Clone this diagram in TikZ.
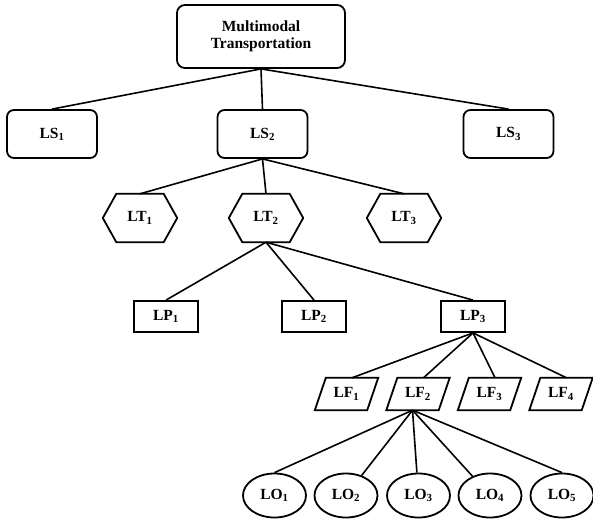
\documentclass[tikz,border=0pt]{standalone}
\usepackage{fontspec}
\setmainfont{Liberation Serif}
\usetikzlibrary{shapes.geometric}
\begin{document}
\begin{tikzpicture}[x=1pt,y=-1pt,
  every node/.style={font=\fontsize{15.5}{17}\selectfont\bfseries},
  topbox/.style={draw, line width=1.8pt, rounded corners=8pt, minimum width=168pt, minimum height=63pt, inner sep=0pt, align=center},
  rbox/.style={draw, line width=1.8pt, rounded corners=7pt, minimum width=90pt, minimum height=48pt, inner sep=0pt},
  hexbox/.style={minimum width=74pt, minimum height=48pt, inner sep=0pt},
  pbox/.style={draw, line width=1.8pt, minimum width=64pt, minimum height=31pt, inner sep=0pt},
  fbox/.style={minimum width=63pt, minimum height=32pt, inner sep=0pt},
  obox/.style={draw, ellipse, line width=1.8pt, minimum width=63pt, minimum height=44pt, inner sep=0pt},
  conn/.style={line width=1.6pt},
  outline/.style={line width=1.8pt, line join=miter}]
\useasboundingbox (0,0) rectangle (593,519);

% level 0
\node[topbox] (mt) at (261,36.5) {Multimodal\\Transportation};
% level 1
\node[rbox] (ls1) at (52,134) {LS\textsubscript{1}};
\node[rbox] (ls2) at (262.5,134) {LS\textsubscript{2}};
\node[rbox] (ls3) at (508.5,134) {LS\textsubscript{3}};
% level 2
\node[hexbox] (lt1) at (140,218) {LT\textsubscript{1}};
\node[hexbox] (lt2) at (266,218) {LT\textsubscript{2}};
\node[hexbox] (lt3) at (404,218) {LT\textsubscript{3}};
\foreach \n in {lt1,lt2,lt3}{
  \draw[outline] (\n.west) -- ([xshift=13.5pt]\n.north west) -- ([xshift=-13.5pt]\n.north east)
    -- (\n.east) -- ([xshift=-13.5pt]\n.south east) -- ([xshift=13.5pt]\n.south west) -- cycle;
}
% level 3
\node[pbox] (lp1) at (166,316.5) {LP\textsubscript{1}};
\node[pbox] (lp2) at (314,316.5) {LP\textsubscript{2}};
\node[pbox] (lp3) at (473,316.5) {LP\textsubscript{3}};
% level 4
\node[fbox] (lf1) at (346.5,394) {LF\textsubscript{1}};
\node[fbox] (lf2) at (418,394) {LF\textsubscript{2}};
\node[fbox] (lf3) at (489.5,394) {LF\textsubscript{3}};
\node[fbox] (lf4) at (561,394) {LF\textsubscript{4}};
\foreach \n in {lf1,lf2,lf3,lf4}{
  \draw[outline] (\n.south west) -- ([xshift=11pt]\n.north west) -- (\n.north east)
    -- ([xshift=-11pt]\n.south east) -- cycle;
}
% level 5
\node[obox] (lo1) at (274.5,495.5) {LO\textsubscript{1}};
\node[obox] (lo2) at (346,495.5) {LO\textsubscript{2}};
\node[obox] (lo3) at (418.5,495.5) {LO\textsubscript{3}};
\node[obox] (lo4) at (490,495.5) {LO\textsubscript{4}};
\node[obox] (lo5) at (562,495.5) {LO\textsubscript{5}};

% connectors
\draw[conn] (mt.south) -- (ls1.north);
\draw[conn] (mt.south) -- (ls2.north);
\draw[conn] (mt.south) -- (ls3.north);
\draw[conn] (ls2.south) -- (lt1.north);
\draw[conn] (ls2.south) -- (lt2.north);
\draw[conn] (ls2.south) -- (lt3.north);
\draw[conn] (lt2.south) -- (lp1.north);
\draw[conn] (lt2.south) -- (lp2.north);
\draw[conn] (lt2.south) -- (lp3.north);
\foreach \n in {lf1,lf2,lf3,lf4}{
  \draw[conn] (lp3.south) -- ([xshift=5.5pt]\n.north);
}
\coordinate (lf2b) at ([xshift=-5.5pt]lf2.south);
\draw[conn] (lf2b) -- (lo1.north);
\draw[conn] (lf2b) -- (lo2);
\draw[conn] (lf2b) -- (lo3);
\draw[conn] (lf2b) -- (lo4);
\draw[conn] (lf2b) -- (lo5.north);
\end{tikzpicture}
\end{document}
